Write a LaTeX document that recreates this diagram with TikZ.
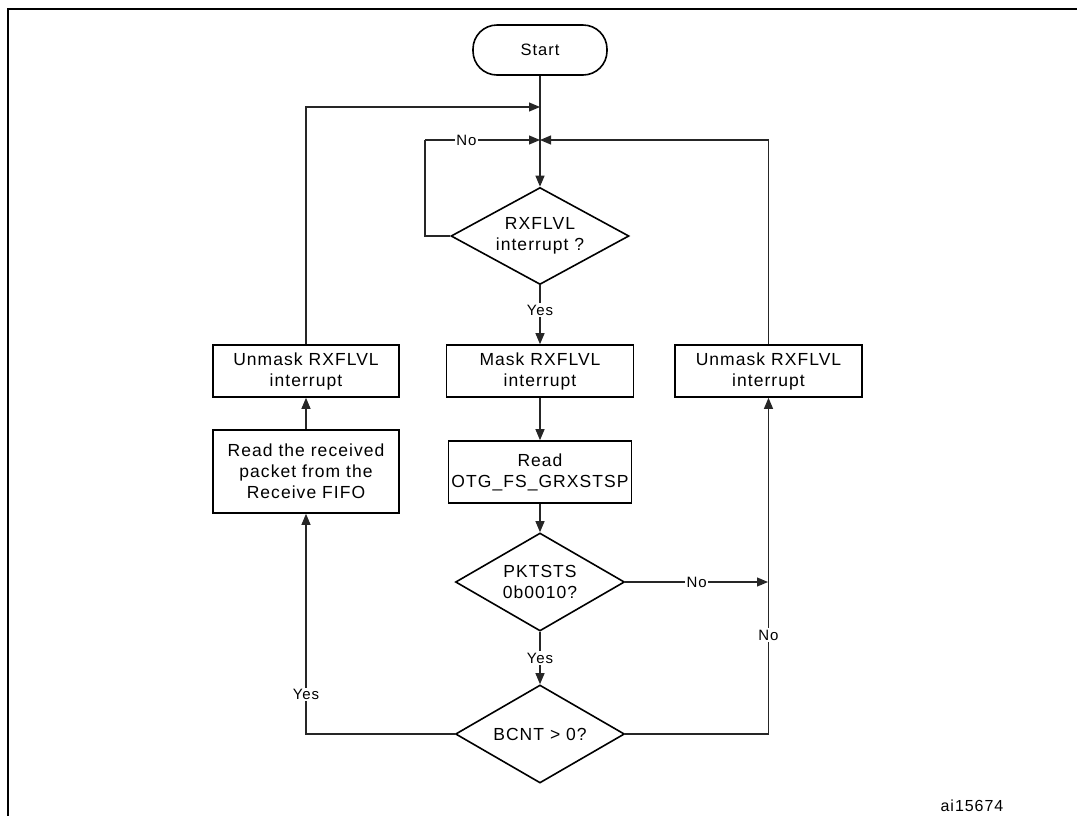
\documentclass[tikz,border=0pt]{standalone}
\usepackage{fontspec}
\setmainfont{Liberation Sans}[LetterSpace=6]
\usetikzlibrary{shapes.geometric,arrows.meta}
\tikzset{
  boxtxt/.style={font=\fontsize{17.5}{21}\selectfont},
  procbox/.style={draw, line width=1.6pt, align=center, inner sep=0pt, boxtxt},
  decide/.style={draw, diamond, aspect=1.8, line width=1.6pt, align=center, inner sep=0pt, boxtxt},
  termbox/.style={draw, rounded corners=24pt, line width=1.6pt, align=center, inner sep=0pt, font=\fontsize{16.5}{21}\selectfont},
  conn/.style={draw=black!85, line width=1.1pt},
  arr/.style={conn, -{Triangle[length=11pt,width=9pt]}},
  lbl/.style={fill=white, inner sep=1.5pt, font=\fontsize{15}{15}\selectfont},
}
\begin{document}
\begin{tikzpicture}[x=1pt,y=-1pt]
\useasboundingbox (0,0) rectangle (1077,815);
% frame
\draw[line width=2.5pt] (8,820) -- (8,9) -- (1080,9);

% nodes
\node[termbox, minimum width=134pt, minimum height=50pt] (start) at (540,50) {Start};
\node[decide, minimum width=178pt, minimum height=97pt] (d1) at (540,236) {RXFLVL\\interrupt ?};
\node[procbox, minimum width=187pt, minimum height=52pt] (mask) at (540,371) {Mask RXFLVL\\interrupt};
\node[procbox, minimum width=186pt, minimum height=52pt] (unL) at (306,371) {Unmask RXFLVL\\interrupt};
\node[procbox, minimum width=187pt, minimum height=52pt] (unR) at (768.5,371) {Unmask RXFLVL\\interrupt};
\node[procbox, minimum width=186pt, minimum height=83pt] (readL) at (306,471.5) {Read the received\\packet from the\\Receive FIFO};
\node[procbox, minimum width=183pt, minimum height=62pt] (readO) at (540,472) {Read\\OTG\_FS\_GRXSTSP};
\node[decide, minimum width=169pt, minimum height=98pt] (d2) at (540,582) {PKTSTS\\0b0010?};
\node[decide, minimum width=169pt, minimum height=98pt] (d3) at (540,734) {BCNT > 0?};
\node[font=\fontsize{16}{16}\selectfont] (ai) at (972,806) {ai15674};

% junctions
\coordinate (j1) at (540,107);
\coordinate (j2) at (540,140);
\coordinate (nl) at (425,140);
\coordinate (jr) at (768,582);

% connectors
\draw[arr] (start.south) -- (d1.north);
\draw[arr] (unL.north) |- (j1);
\draw[conn] (d1.west) -| (nl);
\draw[arr] (nl) -- node[lbl, pos=0.36] (no1) {No} (j2);
\draw[arr] (unR.north) |- (j2);
\draw[arr] (d1.south) -- node[lbl, pos=0.42] (yes1) {Yes} (mask.north);
\draw[arr] (mask.south) -- (readO.north);
\draw[arr] (readO.south) -- (d2.north);
\draw[arr] (d2.east) -- node[lbl, pos=0.5] (no2) {No} (jr);
\draw[arr] (d2.south) -- node[lbl, pos=0.5] (yes2) {Yes} (d3.north);
\draw[arr] (d3.east) -| node[lbl, pos=0.647] (no3) {No} (unR.south);
\draw[arr] (d3.west) -| node[lbl, pos=0.59] (yes3) {Yes} (readL.south);
\draw[arr] (readL.north) -- (unL.south);
\end{tikzpicture}
\end{document}
